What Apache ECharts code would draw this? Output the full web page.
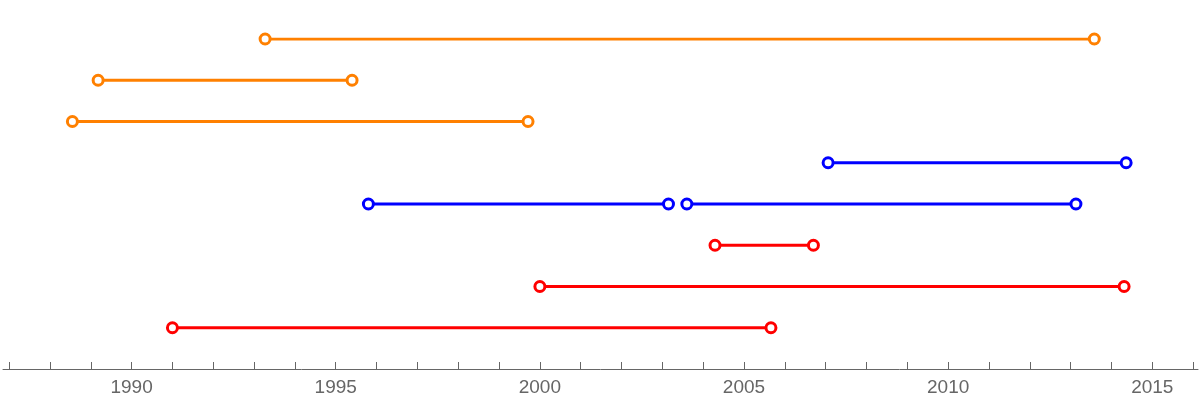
<!DOCTYPE html>
<html>
<head>
<meta charset="utf-8">
<script src="https://cdn.jsdelivr.net/npm/echarts@6/dist/echarts.min.js"></script>
<style>html,body{margin:0;padding:0;background:#fff}#c{width:1202px;height:401px}</style>
</head>
<body>
<div id="c"></div>
<script>
// Interval data: row (1 = bottom), start year, end year, colour group
const rows   = [8, 7, 6, 5, 4, 4, 3, 2, 1];
const starts = [1993.27, 1989.18, 1988.55, 2007.06, 1995.80, 2003.60, 2004.29, 2000.0, 1991.0];
const ends   = [2013.58, 1995.40, 1999.71, 2014.36, 2003.15, 2013.13, 2006.70, 2014.31, 2005.66];
const groups = ['orange','orange','orange','blue','blue','blue','red','red','red'];
const colors = {orange: '#FF8000', blue: '#0000FF', red: '#FF0000'};
const majorTicks = [1990, 1995, 2000, 2005, 2010, 2015];
const minorTicks = [1987,1988,1989,1990,1991,1992,1993,1994,1995,1996,1997,1998,1999,2000,2001,2002,2003,2004,2005,2006,2007,2008,2009,2010,2011,2012,2013,2014,2015,2016];

const series = rows.map((r, i) => {
  const c = colors[groups[i]];
  return {
    type: 'line',
    data: [[starts[i], r], [ends[i], r]],
    symbol: 'circle',
    symbolSize: 10,
    showAllSymbol: true,
    lineStyle: {color: c, width: 3},
    itemStyle: {color: '#fff', borderColor: c, borderWidth: 3},
    emphasis: {disabled: true},
    animation: false
  };
});

const chart = echarts.init(document.getElementById('c'));
chart.setOption({
  animation: false,
  grid: {left: 3, right: 4, top: 39, bottom: 32},
  xAxis: {
    type: 'value',
    min: 1986.85,
    max: 2016.12,
    splitLine: {show: false},
    axisLine: {show: true, lineStyle: {color: '#666', width: 1}},
    axisTick: {show: true, inside: true, length: 7, customValues: minorTicks, lineStyle: {color: '#666', width: 1}},
    axisLabel: {customValues: majorTicks, color: '#666', fontSize: 19, fontFamily: 'Liberation Sans', margin: 9, formatter: v => String(v)}
  },
  yAxis: {
    type: 'value', min: 0, max: 8, show: false, splitLine: {show: false}
  },
  series: series
});
</script>
</body>
</html>
